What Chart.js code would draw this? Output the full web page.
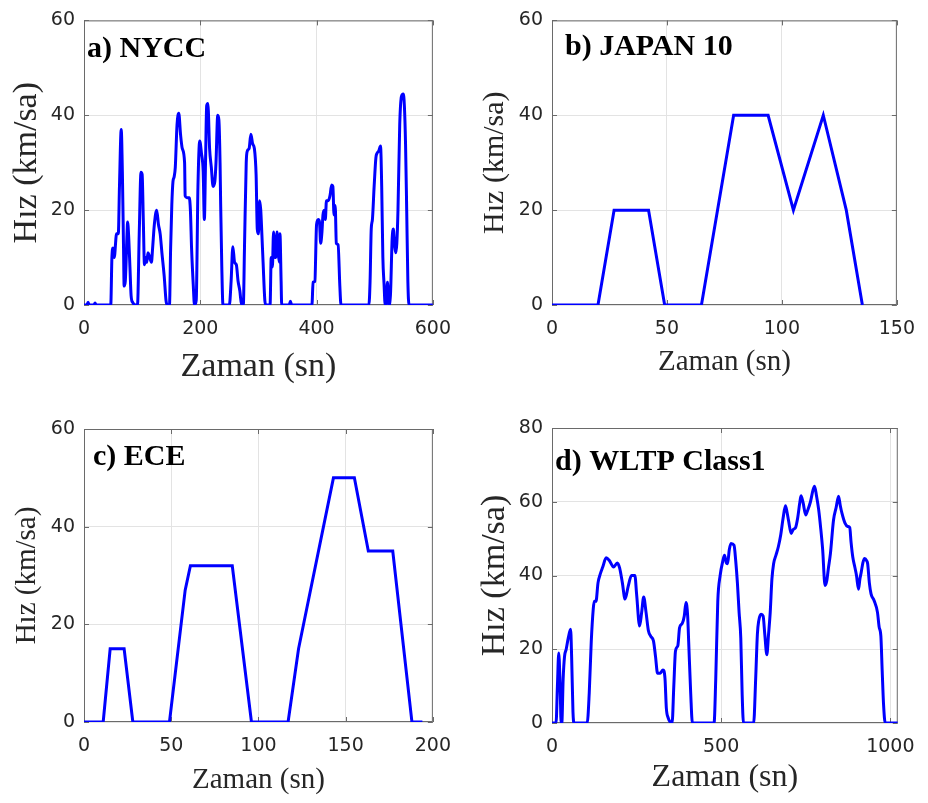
<!DOCTYPE html>
<html>
<head>
<meta charset="utf-8">
<script src="https://cdn.jsdelivr.net/npm/chart.js@4.4.1/dist/chart.umd.min.js"></script>
<style>
  body { margin: 0; background: #fff; }
  .panel { position: absolute; }
</style>
</head>
<body>
<div class="panel" style="left:0;top:0;width:464px;height:401px"><canvas id="nycc"></canvas></div>
<div class="panel" style="left:464px;top:0;width:464px;height:401px"><canvas id="japan"></canvas></div>
<div class="panel" style="left:0;top:401px;width:464px;height:402px"><canvas id="ece"></canvas></div>
<div class="panel" style="left:464px;top:401px;width:464px;height:402px"><canvas id="wltp"></canvas></div>
<script>
// a) NYCC - zaman (sn) / hiz (km/sa), okunan degerler
const nyccT = [0,5,7,9,17,19,21,46,48,50,52,56,59,61,64,66,68,69,71,74,75,77,79,81,84,89,92,95,98,100,102,104,106,108,110,112,116,118,121,125,128,131,134,138,141,143,147,149,151,153,155,157,160,163,166,169,173,174,177,181,183,185,188,190,193,196,199,202,205,207,209,211,213,216,219,222,225,227,230,232,234,235,237,239,250,253,256,259,262,265,268,271,274,276,279,281,284,287,290,293,296,298,300,302,304,306,308,311,313,320,322,324,326,328,330,332,334,336,337,339,340,353,355,357,392,394,397,400,403,405,407,409,411,413,415,417,420,423,426,428,430,432,434,437,440,442,490,492,494,496,499,502,504,507,510,512,514,516,518,520,522,524,527,530,532,534,536,538,540,543,546,549,551,553,555,557,559,600];
const nyccV = [0,0,0.6,0,0,0.4,0,0,10,12,10,15,15,25,37,28,12,4,5,15,17.5,14,8,2,0.5,0,0,15,28,27.5,18,8.5,10,9,11,10.5,9,12,17,20,17,15,11,6,1,0,0,12,21,26,27,29,38,40.4,36,33,30,23,22.6,22.6,20,12,4,0,1,25,34.6,32,28,18,30,42,42.5,33,29,25,26,30,40,39,30,21.5,8,0,0,5,12.3,9,8.5,5,3,0,0,12,30,32.5,33,36,34,33,27.4,16,15,22,20,14.7,9,1,0,0,10,8,15.4,10,10,15.4,11,9,15,5,0,0,0.8,0,0,4.8,5,17,18,17.5,13,15,19,20,18,22,22,23,25.3,25,19,21,13,12.7,4,0,0,5,16,18,25,31,32,32.5,33.5,25,10,4.5,0,1,4.8,0,2,14,16,13,11,13,20,38,44,44.5,42,34,20,5,0,0];

// b) JAPAN 10
const japanT = [0,20,27,42,49,65,79,94,105,118,128,135];
const japanV = [0,0,20,20,0,0,40,40,20,40,20,0];

// c) ECE
const eceT = [0,11,15,23,28,49,58,61,85,96,117,123,143,155,163,177,188,194];
const eceV = [0,0,15,15,0,0,27,32,32,0,0,15,50,50,35,35,0,0];

// d) WLTP Class1
const wltpT = [0,12,16,20,24,27,29,33,37,42,48,55,58,62,65,104,110,116,122,125,130,136,143,150,160,170,182,193,200,208,216,225,235,245,250,259,265,271,278,285,292,300,306,312,320,328,334,338,343,355,360,365,372,377,385,391,396,401,404,410,415,479,484,490,497,505,510,515,519,524,529,538,543,548,553,558,562,566,596,602,607,611,618,624,629,635,640,645,650,655,662,669,676,683,690,695,699,707,713,720,726,732,736,742,750,755,764,771,776,782,788,794,800,807,812,817,823,832,840,847,852,857,866,874,880,884,889,895,900,906,910,914,919,924,930,933,938,943,952,962,967,972,976,980,985,1022];
const wltpV = [0,0,10,19,10,0,0,12,18,20,23,25.4,18,3,0,0,8,22,31,33,33,38,40.5,42.3,44.8,44,42.3,43.4,42,38,33.6,37,40,40,35,26.3,30,34.2,30,25,23.5,22.2,18,13.5,13.5,14.4,12,4,1.5,0,10,19.5,21,25.8,27,29,32.7,29,22,8,0,0,12,33,40,44,45.5,43.5,43.2,47,48.7,48.2,44,38,30,23,8,0,0,12,24,27.7,29.5,29,24,18.5,24,30,39,43.2,45.5,47.8,51,55.5,58.9,57,55,51.4,52.5,53,55.5,59.5,61.6,59.8,56.4,57.5,60,63,64.2,61.5,58,53,47,37.3,38.5,42,46,55,58.5,61.5,59,56.9,54.2,53.3,53,49,45,42.3,40,36.3,39,40.9,43.5,44.6,44,43.2,38,35,33.2,30,26,23.6,14,5,0,0];

// eksen etiketleri
const ticks60 = [0, 20, 40, 60];
const ticks80 = [0, 20, 40, 60, 80];
const nyccTicks = [0, 200, 400, 600];
const japanTicks = [0, 50, 100, 150];
const eceTicks = [0, 50, 100, 150, 200];
const wltpTicks = [0, 500, 1000];

Chart.defaults.font.family = "'DejaVu Sans', sans-serif";
Chart.defaults.font.size = 19;
Chart.defaults.color = '#262626';

// kutu, ice dogru tick cizgileri ve panel basligi
const boxPlugin = {
  id: 'box',
  beforeDatasetsDraw(chart, args, o) {
    const { ctx, chartArea: a, scales } = chart;
    ctx.save();
    ctx.strokeStyle = '#6a6a6a';
    ctx.lineWidth = 1;
    ctx.strokeRect(a.left + 0.5, a.top + 0.5, a.width - 1, a.height - 1);
    ctx.beginPath();
    scales.x.ticks.forEach(t => {
      const px = Math.round(scales.x.getPixelForValue(t.value)) + 0.5;
      ctx.moveTo(px, a.bottom); ctx.lineTo(px, a.bottom - 5);
      ctx.moveTo(px, a.top); ctx.lineTo(px, a.top + 5);
    });
    scales.y.ticks.forEach(t => {
      const py = Math.round(scales.y.getPixelForValue(t.value)) + 0.5;
      ctx.moveTo(a.left, py); ctx.lineTo(a.left + 5, py);
      ctx.moveTo(a.right, py); ctx.lineTo(a.right - 5, py);
    });
    ctx.stroke();
    ctx.fillStyle = '#000';
    ctx.font = "bold 30px 'Liberation Serif', 'Times New Roman', serif";
    ctx.textBaseline = 'alphabetic';
    ctx.fillText(o.text, a.left + o.dx, a.top + o.dy);
    ctx.restore();
  }
};

function makeChart(id, t, v, p) {
  return new Chart(document.getElementById(id), {
    type: 'line',
    data: {
      datasets: [{
        data: t.map((x, i) => ({ x: x, y: v[i] })),
        borderColor: '#0000ff',
        borderWidth: 3,
        pointRadius: 0,
        tension: 0,
        cubicInterpolationMode: p.smooth ? 'monotone' : 'default'
      }]
    },
    options: {
      responsive: true,
      maintainAspectRatio: false,
      animation: false,
      events: [],
      layout: { padding: { top: p.padTop, right: p.padRight, left: 0, bottom: 0 } },
      plugins: {
        legend: { display: false },
        tooltip: { enabled: false },
        box: { text: p.label, dx: p.labelDx, dy: p.labelDy }
      },
      scales: {
        x: {
          type: 'linear',
          min: 0,
          max: p.xMax,
          afterBuildTicks: s => { s.ticks = p.xTicks.map(val => ({ value: val })); },
          afterFit: s => { s.height = p.xHeight; },
          ticks: { padding: 13, maxRotation: 0, callback: val => String(val) },
          grid: { color: '#e3e3e3', drawTicks: false },
          border: { display: false },
          title: {
            display: true,
            text: 'Zaman (sn)',
            color: '#262626',
            font: { family: "'Liberation Serif', 'Times New Roman', serif", size: p.xTitleSize, lineHeight: 1 },
            padding: { top: 0, bottom: p.xTitlePad }
          }
        },
        y: {
          min: 0,
          max: p.yMax,
          afterBuildTicks: s => { s.ticks = p.yTicks.map(val => ({ value: val })); },
          afterFit: s => { s.width = p.yWidth; },
          ticks: { padding: 9, callback: val => String(val) },
          grid: { color: '#e3e3e3', drawTicks: false },
          border: { display: false },
          title: {
            display: true,
            text: 'Hız (km/sa)',
            color: '#262626',
            font: { family: "'Liberation Serif', 'Times New Roman', serif", size: p.yTitleSize, lineHeight: 1 },
            padding: { top: p.yTitlePad, bottom: 0 }
          }
        }
      }
    },
    plugins: [boxPlugin]
  });
}

makeChart('nycc', nyccT, nyccV, {
  xMax: 600, xTicks: nyccTicks, yMax: 60, yTicks: ticks60, smooth: true,
  padTop: 13, padRight: 26, yWidth: 84, xHeight: 96,
  xTitleSize: 34, xTitlePad: 17, yTitleSize: 34, yTitlePad: 10,
  label: 'a) NYCC', labelDx: 3, labelDy: 37
});

makeChart('japan', japanT, japanV, {
  xMax: 150, xTicks: japanTicks, yMax: 60, yTicks: ticks60, smooth: false,
  padTop: 13, padRight: 24, yWidth: 88, xHeight: 96,
  xTitleSize: 29, xTitlePad: 24, yTitleSize: 30, yTitlePad: 16,
  label: 'b) JAPAN 10', labelDx: 13, labelDy: 35
});

makeChart('ece', eceT, eceV, {
  xMax: 200, xTicks: eceTicks, yMax: 60, yTicks: ticks60, smooth: false,
  padTop: 28, padRight: 26, yWidth: 84, xHeight: 81,
  xTitleSize: 29, xTitlePad: 8, yTitleSize: 29, yTitlePad: 13,
  label: 'c) ECE', labelDx: 9, labelDy: 36
});

makeChart('wltp', wltpT, wltpV, {
  xMax: 1022, xTicks: wltpTicks, yMax: 80, yTicks: ticks80, smooth: true,
  padTop: 27, padRight: 23, yWidth: 88, xHeight: 80,
  xTitleSize: 32, xTitlePad: 9, yTitleSize: 34, yTitlePad: 14,
  label: 'd) WLTP Class1', labelDx: 3, labelDy: 42
});
</script>
</body>
</html>
